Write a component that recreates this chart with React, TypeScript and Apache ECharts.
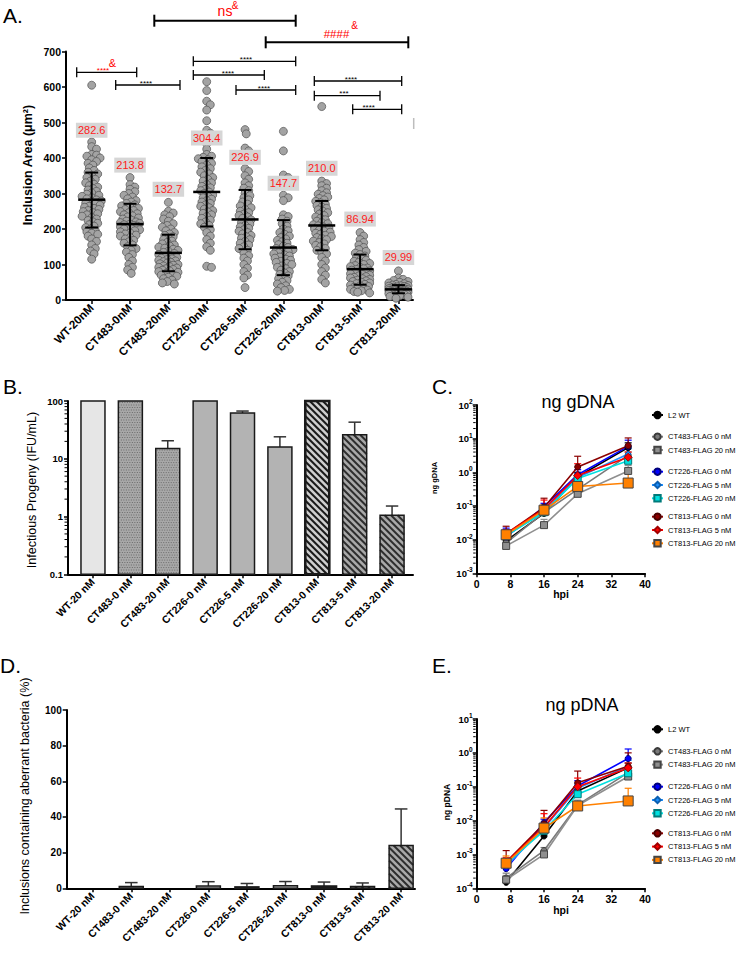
import React, { useEffect, useRef } from "react";
import * as echarts from "echarts";

// ---------------- DATA ----------------
const catsA = ["WT-20nM", "CT483-0nM", "CT483-20nM", "CT226-0nM", "CT226-5nM", "CT226-20nM", "CT813-0nM", "CT813-5nM", "CT813-20nM"];
const catsB = ["WT-20 nM", "CT483-0 nM", "CT483-20 nM", "CT226-0 nM", "CT226-5 nM", "CT226-20 nM", "CT813-0 nM", "CT813-5 nM", "CT813-20 nM"];

// Panel A: inclusion areas (µm²)
const areaWT = [605, 445, 432, 425, 410, 408, 405, 400, 395, 390, 385, 380, 372, 365, 360, 355, 350, 345, 340, 335, 330, 326, 322, 318, 314, 310, 306, 302, 298, 295, 292, 288, 285, 282, 279, 276, 273, 270, 267, 264, 261, 258, 255, 252, 249, 246, 243, 240, 236, 232, 228, 224, 220, 216, 212, 208, 204, 200, 196, 192, 188, 185, 180, 172, 165, 155, 145, 138, 130, 115];
const area483_0 = [345, 325, 318, 312, 305, 300, 295, 290, 285, 280, 276, 272, 268, 265, 262, 258, 255, 252, 249, 246, 243, 240, 237, 234, 231, 228, 225, 222, 220, 218, 216, 214, 212, 210, 208, 206, 204, 202, 200, 198, 195, 192, 189, 186, 183, 180, 176, 172, 168, 164, 160, 155, 150, 145, 140, 135, 128, 120, 110, 100, 92, 85, 75];
const area483_20 = [275, 250, 245, 240, 235, 228, 222, 215, 210, 205, 200, 195, 190, 186, 182, 178, 174, 170, 166, 162, 158, 155, 152, 149, 146, 143, 140, 137, 134, 131, 128, 125, 122, 120, 118, 116, 114, 112, 110, 108, 106, 104, 102, 100, 98, 96, 94, 92, 90, 88, 86, 84, 82, 80, 78, 75, 72, 70, 67, 64, 60, 56, 52, 48, 45];
const area226_0 = [615, 590, 560, 550, 535, 505, 478, 470, 455, 440, 425, 410, 405, 402, 398, 395, 390, 385, 380, 375, 370, 365, 360, 355, 350, 345, 340, 335, 330, 325, 320, 316, 312, 308, 304, 300, 296, 292, 288, 284, 280, 276, 272, 268, 264, 260, 256, 252, 248, 244, 240, 235, 230, 225, 220, 215, 210, 205, 198, 190, 180, 170, 160, 150, 140, 95, 92];
const area226_5 = [480, 468, 428, 420, 410, 370, 362, 350, 340, 330, 322, 315, 308, 300, 294, 288, 282, 276, 270, 265, 260, 255, 250, 246, 242, 238, 234, 230, 226, 222, 218, 214, 210, 206, 202, 198, 194, 190, 186, 182, 178, 174, 170, 165, 160, 155, 150, 145, 140, 132, 125, 118, 110, 100, 90, 80, 70, 62, 35];
const area226_20 = [475, 420, 352, 345, 295, 288, 280, 240, 235, 228, 222, 215, 208, 200, 195, 190, 185, 180, 176, 172, 168, 164, 160, 156, 152, 148, 145, 142, 139, 136, 133, 130, 127, 124, 121, 118, 115, 112, 109, 106, 103, 100, 96, 92, 88, 84, 80, 76, 72, 68, 64, 60, 55, 50, 45, 40, 35, 30, 27, 25];
const area813_0 = [545, 335, 328, 322, 315, 308, 302, 298, 294, 290, 286, 282, 278, 274, 270, 266, 262, 258, 254, 250, 246, 242, 238, 234, 230, 226, 222, 218, 215, 212, 209, 206, 203, 200, 197, 194, 191, 188, 185, 182, 179, 176, 173, 170, 166, 162, 158, 154, 150, 145, 140, 135, 130, 120, 110, 100, 90, 80, 70, 58, 48];
const area813_5 = [190, 180, 170, 162, 155, 148, 142, 137, 132, 128, 124, 120, 116, 112, 109, 106, 103, 100, 97, 94, 92, 90, 88, 86, 84, 82, 80, 78, 76, 74, 72, 70, 68, 66, 64, 62, 60, 58, 56, 54, 52, 50, 48, 46, 44, 42, 40, 38, 36, 34, 32, 30, 28, 26, 24, 22, 20];
const area813_20 = [82, 62, 58, 55, 52, 50, 48, 46, 44, 42, 41, 40, 39, 38, 37, 36, 35, 34, 33, 32, 31, 30, 30, 29, 29, 28, 28, 27, 27, 26, 26, 25, 25, 24, 24, 23, 23, 22, 22, 21, 21, 20, 20, 19, 18, 17, 16, 15, 14, 12, 10, 8, 5];
const areaGroups = [areaWT, area483_0, area483_20, area226_0, area226_5, area226_20, area813_0, area813_5, area813_20];

const areaMean = [282.6, 213.8, 132.7, 304.4, 226.9, 147.7, 210.0, 86.94, 29.99];
const areaMeanText = ["282.6", "213.8", "132.7", "304.4", "226.9", "147.7", "210.0", "86.94", "29.99"];
const areaSdLow = [204, 154, 81, 207, 143, 70, 140, 43, 19];
const areaSdHigh = [359, 271, 184, 400, 310, 225, 279, 128, 42];
const meanLabelAt = [478, 380, 312, 456, 402, 329, 371, 228, 120];

// Panel B: infectious progeny (% IFU/mL, log)
const progeny = [100, 100, 15, 100, 62, 16, 100, 26, 1.05];
const progenyUpper = [null, null, 20.5, null, 67, 24, null, 43, 1.52];

// Panel D: inclusions containing aberrant bacteria (%)
const aberrant = [0, 1.0, 0, 1.3, 0.8, 1.5, 1.0, 1.0, 24];
const aberrantUpper = [null, 3.2, null, 3.7, 2.7, 3.8, 3.5, 3.0, 44.5];

// Panels C/E
const hpi = [7, 16, 24, 36];
const strains = ["L2 WT", "CT483-FLAG 0 nM", "CT483-FLAG 20 nM", "CT226-FLAG 0 nM", "CT226-FLAG 5 nM", "CT226-FLAG 20 nM", "CT813-FLAG 0 nM", "CT813-FLAG 5 nM", "CT813-FLAG 20 nM"];

const gWT = [0.0093, 0.06, 0.74, 5.4];
const g483_0 = [0.008, 0.065, 0.31, 3.2];
const g483_20 = [0.0065, 0.027, 0.23, 1.1];
const g226_0 = [0.012, 0.095, 0.85, 5.9];
const g226_5 = [0.013, 0.07, 0.7, 3.5];
const g226_20 = [0.013, 0.065, 0.65, 2.2];
const g813_0 = [0.015, 0.09, 1.45, 6.2];
const g813_5 = [0.015, 0.08, 0.8, 2.8];
const g813_20 = [0.014, 0.075, 0.38, 0.48];

const gErrWT = [null, null, 1.0, 7.5];
const gErr483_0 = [null, null, 0.4, 4];
const gErr483_20 = [null, 0.04, 0.3, 1.6];
const gErr226_0 = [0.022, 0.12, 1.2, 9];
const gErr226_5 = [null, null, 0.9, 5];
const gErr226_20 = [null, null, 0.8, 3];
const gErr813_0 = [0.025, 0.17, 3.0, 10.5];
const gErr813_5 = [0.02, 0.15, 1.8, 4];
const gErr813_20 = [null, 0.11, 0.5, 1.0];

const pWT = [0.00015, 0.0035, 0.075, 0.36];
const p483_0 = [0.0002, 0.0013, 0.029, 0.26];
const p483_20 = [0.00018, 0.001, 0.028, 0.2];
const p226_0 = [0.00038, 0.0087, 0.105, 0.68];
const p226_5 = [0.00045, 0.006, 0.09, 0.4];
const p226_20 = [0.00055, 0.005, 0.06, 0.25];
const p813_0 = [0.0006, 0.008, 0.13, 0.4];
const p813_5 = [0.00058, 0.0065, 0.1, 0.36];
const p813_20 = [0.00055, 0.006, 0.027, 0.038];

const pErrWT = [0.00018, 0.0045, 0.1, 0.5];
const pErr483_0 = [0.00028, 0.0016, 0.04, 0.35];
const pErr483_20 = [0.00024, 0.0013, 0.035, 0.27];
const pErr226_0 = [0.0007, 0.011, 0.15, 1.3];
const pErr226_5 = [0.0006, 0.008, 0.12, 0.6];
const pErr226_20 = [0.0007, 0.007, 0.08, 0.35];
const pErr813_0 = [0.0013, 0.02, 0.29, 1.0];
const pErr813_5 = [0.0008, 0.016, 0.18, 0.5];
const pErr813_20 = [0.0009, 0.012, 0.035, 0.09];

const gSeries = [gWT, g483_0, g483_20, g226_0, g226_5, g226_20, g813_0, g813_5, g813_20];
const gErr = [gErrWT, gErr483_0, gErr483_20, gErr226_0, gErr226_5, gErr226_20, gErr813_0, gErr813_5, gErr813_20];
const pSeries = [pWT, p483_0, p483_20, p226_0, p226_5, p226_20, p813_0, p813_5, p813_20];
const pErr = [pErrWT, pErr483_0, pErr483_20, pErr226_0, pErr226_5, pErr226_20, pErr813_0, pErr813_5, pErr813_20];

// ---------------- STYLE / LAYOUT ----------------
const FONT = "'Liberation Sans', Arial, Helvetica, sans-serif";
const strainColor = ["#000000", "#7a7a7a", "#8f8f8f", "#0000ff", "#1e90ff", "#00e0e0", "#8b0000", "#ff0000", "#ff8000"];
const strainBorder = ["#000000", "#3a3a3a", "#444444", "#00007a", "#0b5fb0", "#007a7a", "#4a0000", "#a00000", "#444444"];
const strainSymbol = ["circle", "circle", "rect", "circle", "diamond", "rect", "circle", "diamond", "rect"];
const strainSymbolSize = [6, 6, 7, 6, 6, 7, 6, 8, 10];

const barStyleIdx = [0, 1, 1, 2, 2, 2, 3, 4, 4];
const BAR_STYLES = [
  { fill: "#e6e6e6", pattern: "none", mark: "", border: 1.5 },
  { fill: "#a8a8a8", pattern: "dots", mark: "#6a6a6a", border: 1.5 },
  { fill: "#b3b3b3", pattern: "none", mark: "", border: 1.5 },
  { fill: "#cfcfcf", pattern: "hatch", mark: "#1a1a1a", border: 2.6 },
  { fill: "#a9a9a9", pattern: "hatch", mark: "#2e2e2e", border: 1.5 },
];

const G = {
  A: { left: 66, top: 51.5, width: 347, height: 248.5 },
  B: { left: 68, top: 401, width: 345, height: 173.3 },
  C: { left: 476.7, top: 405, width: 168.3, height: 168.3 },
  D: { left: 66.7, top: 710, width: 348.3, height: 178.3 },
  E: { left: 476.7, top: 719, width: 168.3, height: 169.3 },
};
const XR_A = [-0.67, 8.38];
const XR_B = [-0.668, 8.56];
const XR_D = [-0.675, 8.36];

const idx9 = catsA.map((_, i) => i);

// beeswarm layout (pixel space) for panel A
const pxPerCat = G.A.width / (XR_A[1] - XR_A[0]);
const pxPerVal = G.A.height / 700;
function swarm(vals: number[]) {
  const placed: number[][] = [];
  const cands: number[] = [0];
  for (let k = 1; k <= 8; k++) cands.push(k * 1.2, -k * 1.2);
  return vals.map((v) => {
    const y = v * pxPerVal;
    let best = 0;
    let bestClear = -1;
    for (const off of cands) {
      let clear = Infinity;
      for (const [px, py] of placed) {
        const d = Math.hypot(px - off, py - y);
        if (d < clear) clear = d;
      }
      if (clear >= 4.4) { best = off; break; }
      if (clear > bestClear) { bestClear = clear; best = off; }
    }
    placed.push([best, y]);
    return best / pxPerCat;
  });
}
const scatterA: number[][] = [];
areaGroups.forEach((g, i) => {
  const offs = swarm(g);
  g.forEach((v, j) => scatterA.push([i + offs[j], v]));
});

function axisBase(extra: any = {}) {
  return {
    axisLine: { show: true, onZero: false, lineStyle: { color: "#000", width: 2 } },
    axisTick: { show: true, length: 4, lineStyle: { color: "#000", width: 1.5 } },
    splitLine: { show: false },
    ...extra,
  };
}
const lblBold = (fs: number) => ({ fontSize: fs, fontWeight: "bold", fontFamily: FONT, color: "#000" });

function catX(gridIndex: number, range: number[], cats: string[], fs: number) {
  return {
    type: "value", gridIndex, min: range[0], max: range[1],
    ...axisBase(),
    axisTick: { show: true, length: 4, customValues: idx9, lineStyle: { color: "#000", width: 1.5 } },
    axisLabel: { ...lblBold(fs), customValues: idx9, rotate: 45, margin: 6, formatter: (v: number) => cats[Math.round(v)] },
  };
}

const supRich = {
  b: { fontSize: 9.5, fontWeight: "bold", fontFamily: FONT, color: "#000", lineHeight: 14 },
  s: { fontSize: 6.5, fontWeight: "bold", fontFamily: FONT, color: "#000", lineHeight: 7, verticalAlign: "top" },
};
const supFmt = (v: number) => `{b|10}{s|${Math.round(Math.log10(v))}}`;

function barShapes(x0: number, y0: number, w: number, h: number, st: number) {
  const s = BAR_STYLES[st];
  const ch: any[] = [{ type: "rect", shape: { x: x0, y: y0, width: w, height: h }, style: { fill: s.fill } }];
  if (s.pattern === "dots") {
    let r = 0;
    for (let y = y0 + 1.5; y < y0 + h - 0.8; y += 2.5, r++) {
      ch.push({ type: "line", shape: { x1: x0 + 1, y1: y, x2: x0 + w - 1, y2: y }, style: { stroke: s.mark, lineWidth: 1, lineDash: [1, 1.5], lineDashOffset: r % 2 ? 1.25 : 0 } });
    }
  } else if (s.pattern === "hatch") {
    const step = 6.5;
    for (let c = y0 - (x0 + w); c < y0 + h - x0; c += step) {
      const xa = Math.max(x0, y0 - c);
      const xb = Math.min(x0 + w, y0 + h - c);
      if (xb > xa) ch.push({ type: "line", shape: { x1: xa, y1: xa + c, x2: xb, y2: xb + c }, style: { stroke: s.mark, lineWidth: 2 } });
    }
  }
  ch.push({ type: "rect", shape: { x: x0, y: y0, width: w, height: h }, style: { fill: "none", stroke: "#1a1a1a", lineWidth: s.border } });
  return ch;
}
const barRenderer = (base: number) => (params: any, api: any) => {
  const i = api.value(0);
  const v = api.value(1);
  if (!(v > 0)) return { type: "group", children: [] };
  const top = api.coord([i, v]);
  const bot = api.coord([i, base]);
  const w = 24;
  return { type: "group", children: barShapes(top[0] - w / 2, top[1], w, bot[1] - top[1], barStyleIdx[Math.round(i)]) };
};
const errRenderer = (cap: number, lw: number, colorOf: (api: any) => string) => (params: any, api: any) => {
  const x = api.value(0);
  const p = api.coord([x, api.value(1)]);
  const q = api.coord([x, api.value(2)]);
  const col = colorOf(api);
  return {
    type: "group",
    children: [
      { type: "line", shape: { x1: p[0], y1: p[1], x2: q[0], y2: q[1] }, style: { stroke: col, lineWidth: lw } },
      { type: "line", shape: { x1: q[0] - cap, y1: q[1], x2: q[0] + cap, y2: q[1] }, style: { stroke: col, lineWidth: lw } },
    ],
  };
};
const minorTickRenderer = (params: any, api: any) => {
  const p = api.coord([api.value(0), api.value(1)]);
  return { type: "line", shape: { x1: p[0] - 3.5, y1: p[1], x2: p[0] - 1, y2: p[1] }, style: { stroke: "#000", lineWidth: 1 } };
};
function minorTicks(lo: number, hi: number) {
  const out: number[] = [];
  for (let d = lo; d < hi; d *= 10) for (let m = 2; m <= 9; m++) out.push(+(d * m).toPrecision(2));
  return out;
}

// annotations for panel A (pixel layout)
const brackets = [
  { x1: 76.7, x2: 136.7, y: 72.3, w: 1.3, t: 5 },
  { x1: 115.7, x2: 180, y: 85, w: 1.3, t: 5 },
  { x1: 154.3, x2: 295.7, y: 20.7, w: 2, t: 6 },
  { x1: 265.7, x2: 408.3, y: 42.3, w: 2, t: 6 },
  { x1: 193.3, x2: 295.7, y: 61.3, w: 1.3, t: 5 },
  { x1: 193.3, x2: 264.3, y: 75, w: 1.3, t: 5 },
  { x1: 236, x2: 295.7, y: 90, w: 1.3, t: 5 },
  { x1: 314.3, x2: 401.7, y: 81, w: 1.3, t: 5 },
  { x1: 314.3, x2: 380, y: 95.7, w: 1.3, t: 5 },
  { x1: 352.7, x2: 401.7, y: 109.3, w: 1.3, t: 5 },
];
const annTexts = [
  { x: 103, y: 70.5, s: "****", c: "#ff0000", f: 8 },
  { x: 112.5, y: 62.5, s: "&", c: "#ff0000", f: 11 },
  { x: 146, y: 83, s: "****", c: "#000", f: 8 },
  { x: 225, y: 11, s: "ns", c: "#ff0000", f: 14 },
  { x: 235, y: 5.5, s: "&", c: "#ff0000", f: 10 },
  { x: 336.5, y: 33.5, s: "####", c: "#ff0000", f: 11.5 },
  { x: 354.5, y: 25.5, s: "&", c: "#ff0000", f: 10 },
  { x: 246, y: 59.3, s: "****", c: "#000", f: 8 },
  { x: 228, y: 73, s: "****", c: "#000", f: 8 },
  { x: 264, y: 88, s: "****", c: "#000", f: 8 },
  { x: 351, y: 79, s: "****", c: "#000", f: 8 },
  { x: 344, y: 93.7, s: "***", c: "#000", f: 8 },
  { x: 368.7, y: 107.3, s: "****", c: "#000", f: 8 },
];

function txt(x: number, y: number, text: string, font: string, extra: any = {}) {
  return {
    type: "text", x, y, silent: true, rotation: extra.rotation || 0,
    style: { text, font, fill: extra.fill || "#000", align: extra.align || "left", textAlign: extra.align || "left", verticalAlign: extra.va || "middle", textVerticalAlign: extra.va || "middle" },
  };
}

const legendGroups = [[0], [1, 2], [3, 4, 5], [6, 7, 8]];
const legendTopC = [409, 430.7, 465.7, 510.7];
const legendTopE = [723.3, 745.3, 780.7, 827.3];

function buildOption() {
  const graphic: any[] = [];
  graphic.push(txt(3, 15, "A.", `21px ${FONT}`));
  graphic.push(txt(3, 386, "B.", `21px ${FONT}`));
  graphic.push(txt(432, 386, "C.", `21px ${FONT}`));
  graphic.push(txt(0, 665, "D.", `21px ${FONT}`));
  graphic.push(txt(432, 665, "E.", `21px ${FONT}`));
  graphic.push(txt(578, 402, "ng gDNA", `18px ${FONT}`, { align: "center" }));
  graphic.push(txt(582, 705, "ng pDNA", `18px ${FONT}`, { align: "center" }));
  graphic.push(txt(561, 594, "hpi", `bold 10.5px ${FONT}`, { align: "center" }));
  graphic.push(txt(561, 910, "hpi", `bold 10.5px ${FONT}`, { align: "center" }));
  graphic.push(txt(28, 165, "Inclusion Area (μm²)", `bold 12.5px ${FONT}`, { align: "center", rotation: Math.PI / 2 }));
  graphic.push(txt(32, 490, "Infectious Progeny (IFU/mL)", `12.5px ${FONT}`, { align: "center", rotation: Math.PI / 2 }));
  graphic.push(txt(25, 796, "Inclusions containing aberrant bacteria (%)", `12.5px ${FONT}`, { align: "center", rotation: Math.PI / 2 }));
  graphic.push(txt(434, 478, "ng gDNA", `bold 7.5px ${FONT}`, { align: "center", rotation: Math.PI / 2 }));
  graphic.push(txt(447, 802, "ng pDNA", `bold 8.5px ${FONT}`, { align: "center", rotation: Math.PI / 2 }));
  brackets.forEach((b) => {
    const st = { stroke: "#000", lineWidth: b.w };
    graphic.push({ type: "line", silent: true, shape: { x1: b.x1, y1: b.y, x2: b.x2, y2: b.y }, style: st });
    graphic.push({ type: "line", silent: true, shape: { x1: b.x1, y1: b.y - b.t, x2: b.x1, y2: b.y + b.t }, style: st });
    graphic.push({ type: "line", silent: true, shape: { x1: b.x2, y1: b.y - b.t, x2: b.x2, y2: b.y + b.t }, style: st });
  });
  annTexts.forEach((t) => graphic.push(txt(t.x, t.y, t.s, `${t.f}px ${FONT}`, { align: "center", fill: t.c })));
  graphic.push({ type: "line", silent: true, shape: { x1: 413.7, y1: 118, x2: 413.7, y2: 129 }, style: { stroke: "#bdbdbd", lineWidth: 1.5 } });

  const legendText = { fontSize: 7.5, fontFamily: FONT, color: "#000", lineHeight: 12 };
  const legends: any[] = [];
  [legendTopC, legendTopE].forEach((tops) => {
    legendGroups.forEach((g, k) => {
      legends.push({
        data: g.map((i) => strains[i]), left: 651, top: tops[k], orient: "vertical",
        itemWidth: 11, itemHeight: 8, itemGap: 1.3, selectedMode: false, padding: 0, textStyle: legendText,
      });
    });
  });

  const lineSeries = (vals: number[][], xi: number) =>
    strains.map((name, s) => ({
      type: "line", name, xAxisIndex: xi, yAxisIndex: xi, z: 3,
      data: hpi.map((h, k) => [h, vals[s][k]]),
      symbol: strainSymbol[s], symbolSize: strainSymbolSize[s], showSymbol: true,
      itemStyle: { color: strainColor[s], borderColor: strainBorder[s], borderWidth: 1 },
      lineStyle: { color: strainColor[s], width: 1.6 },
    }));
  const errData = (vals: number[][], errs: (number | null)[][]) => {
    const out: number[][] = [];
    strains.forEach((_, s) => hpi.forEach((h, k) => { const e = errs[s][k]; if (e != null) out.push([h, vals[s][k], e, s]); }));
    return out;
  };
  const strainErrColor = (api: any) => strainColor[api.value(3)];

  const minorB = minorTicks(0.1, 100).map((v) => [XR_B[0], v]);
  const minorC = minorTicks(0.001, 100).map((v) => [0, v]);
  const minorE = minorTicks(0.0001, 10).map((v) => [0, v]);

  return {
    animation: false,
    backgroundColor: "#ffffff",
    textStyle: { fontFamily: FONT },
    grid: [G.A, G.B, G.C, G.D, G.E].map((g) => ({ ...g, containLabel: false })),
    xAxis: [
      catX(0, XR_A, catsA, 11.5),
      catX(1, XR_B, catsB, 10.5),
      { type: "value", gridIndex: 2, min: 0, max: 40, interval: 8, ...axisBase(), axisLabel: { ...lblBold(10.5), margin: 5 } },
      catX(3, XR_D, catsB, 10.5),
      { type: "value", gridIndex: 4, min: 0, max: 40, interval: 8, ...axisBase(), axisLabel: { ...lblBold(10.5), margin: 5 } },
    ],
    yAxis: [
      { type: "value", gridIndex: 0, min: 0, max: 700, interval: 100, ...axisBase(), axisLabel: { ...lblBold(10.5), margin: 5 } },
      { type: "log", logBase: 10, gridIndex: 1, min: 0.1, max: 100, ...axisBase(), axisLabel: { ...lblBold(9.5), margin: 5, formatter: (v: number) => (v >= 1 ? String(Math.round(v)) : String(+v.toPrecision(1))) } },
      { type: "log", logBase: 10, gridIndex: 2, min: 0.001, max: 100, ...axisBase(), axisLabel: { margin: 4, formatter: supFmt, rich: supRich } },
      { type: "value", gridIndex: 3, min: 0, max: 100, interval: 20, ...axisBase(), axisLabel: { ...lblBold(10), margin: 5 } },
      { type: "log", logBase: 10, gridIndex: 4, min: 0.0001, max: 10, ...axisBase(), axisLabel: { margin: 4, formatter: supFmt, rich: supRich } },
    ],
    legend: legends,
    graphic,
    series: [
      // Panel A
      {
        type: "scatter", xAxisIndex: 0, yAxisIndex: 0, data: scatterA, symbol: "circle", symbolSize: 8, z: 2,
        itemStyle: { color: "#a3a3a3", borderColor: "#505050", borderWidth: 0.7, opacity: 1 },
      },
      {
        type: "custom", xAxisIndex: 0, yAxisIndex: 0, z: 4,
        data: areaMean.map((m, i) => [i, m, areaSdLow[i], areaSdHigh[i]]),
        encode: { x: 0, y: 1 },
        renderItem: (params: any, api: any) => {
          const i = api.value(0);
          const c = api.coord([i, api.value(1)]);
          const lo = api.coord([i, api.value(2)]);
          const hi = api.coord([i, api.value(3)]);
          const st = { stroke: "#000", lineWidth: 2 };
          return {
            type: "group",
            children: [
              { type: "line", shape: { x1: c[0] - 13.5, y1: c[1], x2: c[0] + 13.5, y2: c[1] }, style: { stroke: "#000", lineWidth: 2.5 } },
              { type: "line", shape: { x1: c[0], y1: lo[1], x2: c[0], y2: hi[1] }, style: st },
              { type: "line", shape: { x1: c[0] - 6.5, y1: lo[1], x2: c[0] + 6.5, y2: lo[1] }, style: st },
              { type: "line", shape: { x1: c[0] - 6.5, y1: hi[1], x2: c[0] + 6.5, y2: hi[1] }, style: st },
            ],
          };
        },
      },
      {
        type: "custom", xAxisIndex: 0, yAxisIndex: 0, z: 5,
        data: meanLabelAt.map((y, i) => [i, y]),
        encode: { x: 0, y: 1 },
        renderItem: (params: any, api: any) => {
          const p = api.coord([api.value(0), api.value(1)]);
          return {
            type: "text", x: p[0], y: p[1],
            style: {
              text: areaMeanText[params.dataIndex], fill: "#ff1a1a", fontSize: 11, fontFamily: FONT,
              align: "center", textAlign: "center", verticalAlign: "middle", textVerticalAlign: "middle",
              backgroundColor: "#d6d6d6", padding: [2, 2, 2, 2],
            },
          };
        },
      },
      // Panel B
      { type: "custom", xAxisIndex: 1, yAxisIndex: 1, data: progeny.map((v, i) => [i, v]), encode: { x: 0, y: 1 }, renderItem: barRenderer(0.1) },
      {
        type: "custom", xAxisIndex: 1, yAxisIndex: 1, z: 1,
        data: progeny.map((v, i) => [i, v, progenyUpper[i]]).filter((d) => d[2] != null),
        encode: { x: 0, y: 1 }, renderItem: errRenderer(6.2, 1.5, () => "#333"),
      },
      { type: "custom", xAxisIndex: 1, yAxisIndex: 1, data: minorB, encode: { x: 0, y: 1 }, renderItem: minorTickRenderer },
      // Panel D
      { type: "custom", xAxisIndex: 3, yAxisIndex: 3, z: 2, data: aberrant.map((v, i) => [i, v]), encode: { x: 0, y: 1 }, renderItem: barRenderer(0) },
      {
        type: "custom", xAxisIndex: 3, yAxisIndex: 3, z: 1,
        data: aberrant.map((v, i) => [i, v, aberrantUpper[i]]).filter((d) => d[2] != null),
        encode: { x: 0, y: 1 }, renderItem: errRenderer(6.3, 1.5, () => "#333"),
      },
      // Panel C
      { type: "custom", xAxisIndex: 2, yAxisIndex: 2, z: 2, data: errData(gSeries, gErr), encode: { x: 0, y: 1 }, renderItem: errRenderer(3.5, 1.2, strainErrColor) },
      ...lineSeries(gSeries, 2),
      { type: "custom", xAxisIndex: 2, yAxisIndex: 2, data: minorC, encode: { x: 0, y: 1 }, renderItem: minorTickRenderer },
      // Panel E
      { type: "custom", xAxisIndex: 4, yAxisIndex: 4, z: 2, data: errData(pSeries, pErr), encode: { x: 0, y: 1 }, renderItem: errRenderer(3.5, 1.2, strainErrColor) },
      ...lineSeries(pSeries, 4),
      { type: "custom", xAxisIndex: 4, yAxisIndex: 4, data: minorE, encode: { x: 0, y: 1 }, renderItem: minorTickRenderer },
    ],
  };
}

export default function App() {
  const ref = useRef<HTMLDivElement>(null);
  useEffect(() => {
    if (!ref.current) return;
    const chart = echarts.init(ref.current, undefined, { renderer: "svg" });
    chart.setOption(buildOption() as any);
    return () => chart.dispose();
  }, []);
  return <div ref={ref} style={{ position: "absolute", left: 0, top: 0, width: 737, height: 954, background: "#fff" }} />;
}
